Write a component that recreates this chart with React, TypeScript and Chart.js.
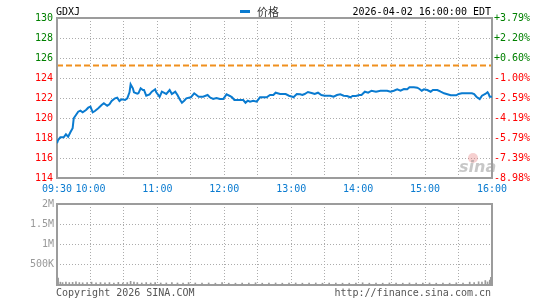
import React, { useEffect, useRef } from 'react';
import { Chart, registerables } from 'chart.js';

Chart.register(...registerables);

const SYMBOL = 'GDXJ';
const SERIES_NAME = '价格';
const TIMESTAMP = '2026-04-02 16:00:00 EDT';
const COPYRIGHT = 'Copyright 2026 SINA.COM';
const SITE = 'http://finance.sina.com.cn';
const PREV_CLOSE = 125.25;

// minutes since 09:30
const priceMinutes = [
  0, 1, 3, 6, 8, 10, 12, 14, 15, 17, 19, 21, 23, 26, 28, 30, 32, 34, 37, 40,
  42, 45, 47, 49, 52, 54, 56, 58, 61, 63, 65, 66, 68, 69, 72, 73, 75, 77, 78, 80,
  83, 85, 88, 89, 92, 93, 94, 97, 98, 101, 103, 106, 108, 110, 112, 114, 116, 120, 123, 125,
  127, 131, 135, 137, 140, 143, 146, 149, 152, 155, 157, 159, 164, 167, 169, 171, 173, 176, 179, 182,
  185, 188, 191, 194, 196, 200, 205, 208, 211, 212, 215, 218, 220, 222, 225, 229, 231, 234, 237, 240,
  245, 248, 251, 254, 257, 260, 263, 265, 268, 271, 273, 276, 279, 282, 286, 290, 296, 299, 302, 305,
  308, 311, 314, 316, 320, 323, 325, 327, 329, 332, 335, 337, 341, 344, 347, 350, 353, 358, 360, 363,
  372, 374, 376, 379, 381, 384, 386, 387, 388, 390,
];
const prices = [
  117.47, 117.8, 118.07, 118.07, 118.37, 118.13, 118.57, 118.97, 119.97, 120.3, 120.63, 120.73, 120.57, 120.8, 121.03, 121.13, 120.57, 120.7, 120.97, 121.3,
  121.47, 121.23, 121.37, 121.7, 121.97, 122.03, 121.7, 121.87, 121.8, 121.97, 122.57, 123.37, 122.97, 122.57, 122.43, 122.47, 122.97, 122.8, 122.8, 122.23,
  122.37, 122.63, 122.87, 122.57, 122.13, 122.37, 122.63, 122.47, 122.4, 122.8, 122.4, 122.63, 122.3, 121.87, 121.53, 121.73, 121.97, 122.07, 122.47, 122.3,
  122.13, 122.13, 122.3, 122.07, 121.9, 122.0, 121.9, 121.9, 122.37, 122.2, 122.07, 121.8, 121.8, 121.8, 121.53, 121.73, 121.63, 121.73, 121.63, 122.07,
  122.07, 122.07, 122.3, 122.3, 122.53, 122.4, 122.4, 122.23, 122.13, 122.07, 122.4, 122.37, 122.3, 122.4, 122.6, 122.47, 122.4, 122.53, 122.3, 122.23,
  122.23, 122.13, 122.3, 122.37, 122.23, 122.2, 122.07, 122.2, 122.2, 122.3, 122.3, 122.63, 122.53, 122.73, 122.63, 122.73, 122.73, 122.63, 122.73, 122.87,
  122.73, 122.9, 122.87, 123.07, 123.07, 123.03, 122.9, 122.73, 122.87, 122.8, 122.63, 122.8, 122.8, 122.63, 122.47, 122.37, 122.27, 122.27, 122.4, 122.47,
  122.47, 122.4, 122.13, 121.9, 122.23, 122.4, 122.57, 122.4, 122.13, 122.13,
];

const priceTicks = [114, 116, 118, 120, 122, 124, 126, 128, 130];
const pctLabels = ['-8.98%', '-7.39%', '-5.79%', '-4.19%', '-2.59%', '-1.00%', '+0.60%', '+2.20%', '+3.79%'];
const timeTicks = [0, 30, 60, 90, 120, 150, 180, 210, 240, 270, 300, 330, 360, 390];
const timeTickLabels = ['09:30', '10:00', '', '11:00', '', '12:00', '', '13:00', '', '14:00', '', '15:00', '', '16:00'];

const volMinutes = [
  1, 3, 5, 8, 11, 14, 17, 20, 23, 27, 31, 35, 39, 43, 47, 51, 55, 59, 63, 66,
  69, 72, 76, 80, 84, 88, 93, 98, 103, 108, 113, 118, 124, 130, 136, 142, 148, 154, 160, 166,
  172, 178, 184, 190, 196, 202, 208, 214, 220, 226, 232, 238, 244, 250, 256, 262, 268, 274, 280, 286,
  292, 298, 304, 310, 316, 322, 328, 334, 340, 346, 352, 358, 364, 370, 374, 378, 381, 384, 386, 388, 389,
];
const volumes = [
  170000, 70000, 60000, 75000, 60000, 65000, 80000, 60000, 55000, 60000, 70000, 55000, 60000, 55000, 60000, 50000, 65000, 50000, 60000, 90000,
  75000, 60000, 50000, 60000, 50000, 60000, 50000, 50000, 60000, 50000, 45000, 60000, 50000, 45000, 50000, 45000, 60000, 45000, 45000, 50000,
  45000, 55000, 45000, 45000, 50000, 45000, 45000, 50000, 45000, 45000, 50000, 45000, 45000, 50000, 45000, 45000, 50000, 55000, 45000, 50000,
  45000, 50000, 45000, 45000, 50000, 45000, 45000, 50000, 45000, 50000, 45000, 55000, 50000, 70000, 60000, 80000, 70000, 110000, 75000, 120000, 190000,
];
const volTicks = [0, 500000, 1000000, 1500000, 2000000];
const volTickLabels = ['', '500K', '1M', '1.5M', '2M'];

const FONT = 'DejaVu Sans Mono';
const GREEN = '#008000';
const RED = '#ff0000';
const BLUE = '#0a7bd0';
const GRID = '#acacac';
const BORDER = '#9c9c9c';
const AXIS_GREY = '#999999';

export default function App() {
  const priceRef = useRef<HTMLCanvasElement | null>(null);
  const volRef = useRef<HTMLCanvasElement | null>(null);

  useEffect(() => {
    Chart.defaults.font.family = FONT;
    Chart.defaults.font.size = 10;

    const priceDecor = {
      id: 'priceDecor',
      beforeDatasetsDraw(chart: any) {
        const { ctx, chartArea } = chart;
        const { left, right, top, bottom } = chartArea;
        const y = chart.scales.y.getPixelForValue(PREV_CLOSE);
        ctx.save();
        // watermark
        ctx.fillStyle = 'rgba(230,120,120,0.35)';
        ctx.beginPath();
        ctx.arc(473, 158, 5, 0, Math.PI * 2);
        ctx.fill();
        ctx.fillStyle = 'rgba(130,130,130,0.45)';
        ctx.font = 'italic bold 16px "DejaVu Sans"';
        ctx.textAlign = 'left';
        ctx.textBaseline = 'alphabetic';
        ctx.fillText('sina', 459, 172);
        // previous close
        ctx.strokeStyle = '#f0901e';
        ctx.lineWidth = 2;
        ctx.setLineDash([6, 3]);
        ctx.beginPath();
        ctx.moveTo(left, y);
        ctx.lineTo(right, y);
        ctx.stroke();
        ctx.setLineDash([]);
        ctx.strokeStyle = BORDER;
        ctx.lineWidth = 2;
        ctx.strokeRect(left, top, right - left, bottom - top);
        ctx.restore();
      },
      afterDraw(chart: any) {
        const { ctx } = chart;
        ctx.save();
        ctx.font = `10px "${FONT}"`;
        ctx.textBaseline = 'middle';
        ctx.fillStyle = '#000';
        ctx.textAlign = 'left';
        ctx.fillText(SYMBOL, 56, 12);
        ctx.textAlign = 'right';
        ctx.fillText(TIMESTAMP, 491, 12);
        ctx.fillStyle = BLUE;
        ctx.fillRect(240, 10, 10, 3);
        ctx.fillStyle = '#333';
        ctx.textAlign = 'left';
        ctx.font = '11px "Noto Sans CJK SC"';
        ctx.fillText(SERIES_NAME, 257, 12);
        ctx.restore();
      },
    };

    const volDecor = {
      id: 'volDecor',
      beforeDatasetsDraw(chart: any) {
        const { ctx, chartArea } = chart;
        const { left, right, top, bottom } = chartArea;
        ctx.save();
        ctx.strokeStyle = BORDER;
        ctx.lineWidth = 2;
        ctx.strokeRect(left, top, right - left, bottom - top);
        ctx.restore();
      },
      afterDraw(chart: any) {
        const { ctx } = chart;
        ctx.save();
        ctx.font = `10px "${FONT}"`;
        ctx.textBaseline = 'middle';
        ctx.fillStyle = '#555';
        ctx.textAlign = 'left';
        ctx.fillText(COPYRIGHT, 56, 98);
        ctx.textAlign = 'right';
        ctx.fillText(SITE, 491, 98);
        ctx.restore();
      },
    };

    const priceChart = new Chart(priceRef.current as HTMLCanvasElement, {
      type: 'line',
      data: {
        datasets: [
          {
            label: SERIES_NAME,
            data: priceMinutes.map((m, i) => ({ x: m, y: prices[i] })),
            borderColor: BLUE,
            borderWidth: 2,
            pointRadius: 0,
            tension: 0,
            yAxisID: 'y',
          },
        ],
      },
      options: {
        responsive: false,
        animation: false,
        devicePixelRatio: 1,
        layout: { padding: { top: 18, left: 0, right: 0, bottom: 0 } },
        plugins: { legend: { display: false }, tooltip: { enabled: false }, title: { display: false } },
        scales: {
          x: {
            type: 'linear',
            min: 0,
            max: 390,
            afterBuildTicks: (s: any) => {
              s.ticks = timeTicks.map((v) => ({ value: v }));
            },
            afterFit: (s: any) => {
              s.height = 22;
            },
            grid: { color: GRID, lineWidth: 1, drawTicks: false },
            border: { display: false, dash: [1, 2] },
            ticks: {
              autoSkip: false,
              maxRotation: 0,
              padding: 5,
              color: BLUE,
              font: { family: FONT, size: 10 },
              callback: (v: any) => {
                const i = timeTicks.indexOf(Number(v));
                return i >= 0 ? timeTickLabels[i] : '';
              },
            },
          },
          y: {
            type: 'linear',
            position: 'left',
            min: 114,
            max: 130,
            afterBuildTicks: (s: any) => {
              s.ticks = priceTicks.map((v) => ({ value: v }));
            },
            afterFit: (s: any) => {
              s.width = 57;
            },
            grid: { color: GRID, lineWidth: 1, drawTicks: false },
            border: { display: false, dash: [1, 2] },
            ticks: {
              padding: 4,
              font: { family: FONT, size: 10 },
              color: (c: any) => (c.tick && c.tick.value > PREV_CLOSE ? GREEN : RED),
              callback: (v: any) => String(v),
            },
          },
          y2: {
            type: 'linear',
            position: 'right',
            min: 114,
            max: 130,
            afterBuildTicks: (s: any) => {
              s.ticks = priceTicks.map((v) => ({ value: v }));
            },
            afterFit: (s: any) => {
              s.width = 53;
            },
            grid: { display: false, drawTicks: false },
            border: { display: false },
            ticks: {
              padding: 2,
              font: { family: FONT, size: 10 },
              color: (c: any) => (c.tick && c.tick.value > PREV_CLOSE ? GREEN : RED),
              callback: (v: any) => {
                const i = priceTicks.indexOf(Number(v));
                return i >= 0 ? pctLabels[i] : '';
              },
            },
          },
        },
      },
      plugins: [priceDecor],
    } as any);

    const volChart = new Chart(volRef.current as HTMLCanvasElement, {
      type: 'bar',
      data: {
        datasets: [
          {
            label: 'vol',
            data: volMinutes.map((m, i) => ({ x: m, y: volumes[i] })),
            backgroundColor: '#9a9a9a',
            barThickness: 1,
          },
        ],
      },
      options: {
        responsive: false,
        animation: false,
        devicePixelRatio: 1,
        layout: { padding: { top: 6, left: 0, right: 53, bottom: 15 } },
        plugins: { legend: { display: false }, tooltip: { enabled: false } },
        scales: {
          x: {
            type: 'linear',
            min: 0,
            max: 390,
            offset: false,
            afterBuildTicks: (s: any) => {
              s.ticks = timeTicks.map((v) => ({ value: v }));
            },
            afterFit: (s: any) => {
              s.height = 0;
            },
            grid: { color: GRID, lineWidth: 1, drawTicks: false, offset: false },
            border: { display: false, dash: [1, 2] },
            ticks: { display: false },
          },
          y: {
            type: 'linear',
            position: 'left',
            min: 0,
            max: 2000000,
            afterBuildTicks: (s: any) => {
              s.ticks = volTicks.map((v) => ({ value: v }));
            },
            afterFit: (s: any) => {
              s.width = 57;
            },
            grid: { color: GRID, lineWidth: 1, drawTicks: false },
            border: { display: false, dash: [1, 2] },
            ticks: {
              padding: 3,
              color: AXIS_GREY,
              font: { family: FONT, size: 10 },
              callback: (v: any) => {
                const i = volTicks.indexOf(Number(v));
                return i >= 0 ? volTickLabels[i] : '';
              },
            },
          },
        },
      },
      plugins: [volDecor],
    } as any);

    return () => {
      priceChart.destroy();
      volChart.destroy();
    };
  }, []);

  return (
    <div style={{ position: 'fixed', left: 0, top: 0, width: 545, height: 300, background: '#fff' }}>
      <canvas ref={priceRef} width={545} height={200} style={{ position: 'absolute', left: 0, top: 0 }} />
      <canvas ref={volRef} width={545} height={105} style={{ position: 'absolute', left: 0, top: 195 }} />
    </div>
  );
}
